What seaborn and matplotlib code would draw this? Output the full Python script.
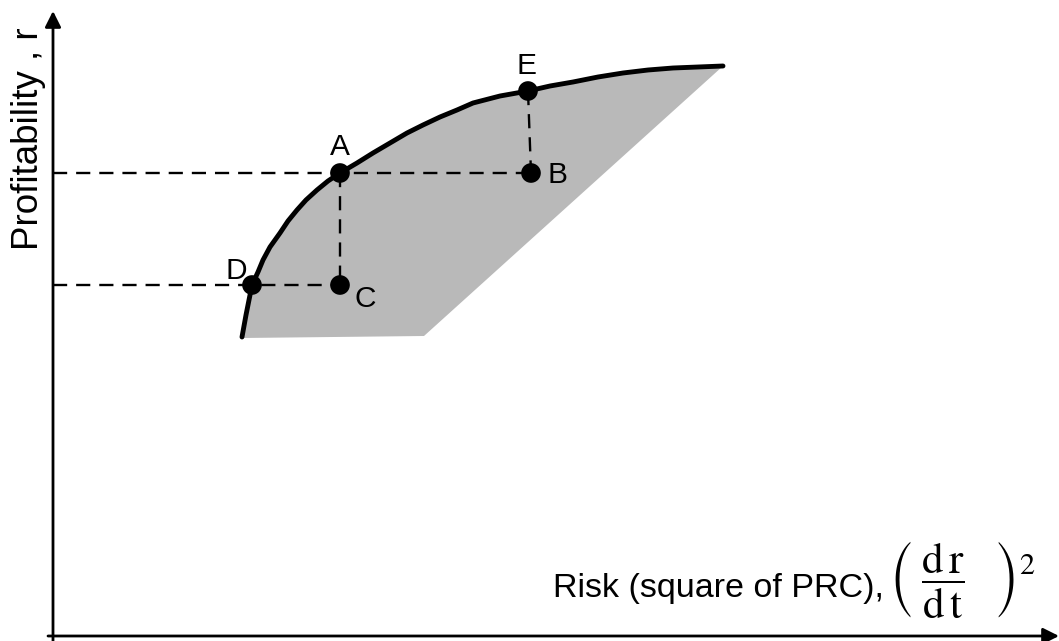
import matplotlib
matplotlib.use("Agg")
import matplotlib.pyplot as plt
import pandas as pd
import seaborn as sns

# efficient frontier (risk, profitability)
frontier_risk = [18.9, 19.3, 19.6, 19.9, 20.5, 21.0, 21.7, 22.7, 23.5, 24.4, 25.3, 26.4,
                 27.5, 28.7, 30.4, 32.0, 33.7, 35.4, 37.0, 38.7, 40.4, 42.0, 44.7, 47.5,
                 49.7, 52.0, 54.5, 57.0, 59.5, 62.0, 64.5, 67.0]
frontier_profit = [29.9, 32.1, 33.6, 35.1, 36.4, 37.6, 38.9, 40.3, 41.5, 42.6, 43.6, 44.6,
                   45.5, 46.3, 47.3, 48.3, 49.3, 50.3, 51.1, 51.9, 52.6, 53.3, 54.0, 54.5,
                   55.0, 55.4, 55.9, 56.3, 56.6, 56.8, 56.9, 57.0]

# lower edge of the feasible region, from the frontier end back to its start
lower_risk = [37.1, 18.9]
lower_profit = [30.0, 29.8]

point_names = ["A", "B", "C", "D", "E"]
point_risk = [28.7, 47.8, 28.7, 19.9, 47.5]
point_profit = [46.3, 46.3, 35.1, 35.1, 54.5]

sns.set_style("white")
plt.rcParams["font.family"] = ["Liberation Sans", "DejaVu Sans"]
plt.rcParams["mathtext.fontset"] = "stix"
plt.rcParams["text.color"] = "black"

fig = plt.figure(figsize=(10.59, 6.41), dpi=100)
ax = fig.add_axes([0, 0, 1, 1])
ax.set_xlim(-5.3, 100.6)
ax.set_ylim(-0.5, 63.6)
ax.axis("off")

# shaded feasible region
ax.fill(frontier_risk + lower_risk, frontier_profit + lower_profit,
        color="#b9b9b9", lw=0, zorder=1)

df = pd.DataFrame({"risk": frontier_risk, "profit": frontier_profit})
sns.lineplot(data=df, x="risk", y="profit", color="black", lw=3.5, ax=ax,
             sort=False, zorder=3, solid_joinstyle="round")

pts = dict(zip(point_names, zip(point_risk, point_profit)))
dash = dict(color="black", lw=1.7, dashes=(6, 3.8), zorder=2)
ax.plot([0, pts["B"][0]], [pts["A"][1], pts["B"][1]], **dash)
ax.plot([0, pts["C"][0]], [pts["D"][1], pts["C"][1]], **dash)
ax.plot([pts["A"][0], pts["C"][0]], [pts["A"][1], pts["C"][1]], **dash)
ax.plot([pts["E"][0], pts["B"][0]], [pts["E"][1], pts["B"][1]], **dash)

pdf = pd.DataFrame({"risk": point_risk, "profit": point_profit})
sns.scatterplot(data=pdf, x="risk", y="profit", color="black", s=200,
                edgecolor="none", ax=ax, zorder=4)

label_offsets = {"A": (0, 1.8, "center"), "B": (1.6, -1.0, "left"),
                 "C": (1.4, -2.2, "left"), "D": (-1.6, 0.6, "center"),
                 "E": (-0.2, 1.7, "center")}
for name in point_names:
    dx, dy, ha = label_offsets[name]
    x, y = pts[name]
    ax.text(x + dx, y + dy, name, fontsize=21.5, ha=ha, va="baseline")

# axes with arrow heads
arrow = dict(arrowstyle="-|>", color="black", lw=2, mutation_scale=24,
             shrinkA=0, shrinkB=0)
ax.annotate("", xy=(0, 62.5), xytext=(0, -0.5), arrowprops=arrow)
ax.annotate("", xy=(100.6, 0), xytext=(-0.5, 0), arrowprops=arrow)

ax.text(-2.5, 49.7, "Profitability , r", rotation=90, fontsize=26.5,
        ha="center", va="center", rotation_mode="anchor")
ax.text(50.0, 3.9, "Risk (square of PRC),", fontsize=24.5, ha="left", va="baseline")
ax.text(83.6, 5.6, r"$\left(\;\dfrac{\mathrm{d\,r}}{\mathrm{d\,t}}\;\;\;\right)^{2}$",
        fontsize=31, ha="left", va="center")

fig.savefig("out.png", dpi=100)
